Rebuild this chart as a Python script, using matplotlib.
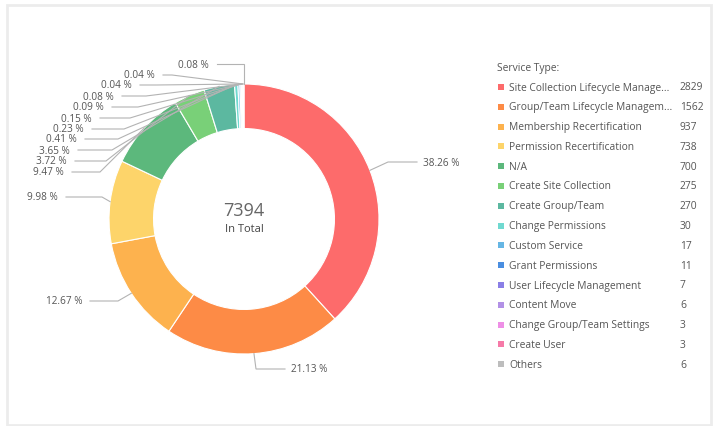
import numpy as np
import matplotlib
matplotlib.use("Agg")
import matplotlib.pyplot as plt
from matplotlib.patches import Rectangle

# data
services = [
    "Site Collection Lifecycle Manage...",
    "Group/Team Lifecycle Managem...",
    "Membership Recertification",
    "Permission Recertification",
    "N/A",
    "Create Site Collection",
    "Create Group/Team",
    "Change Permissions",
    "Custom Service",
    "Grant Permissions",
    "User Lifecycle Management",
    "Content Move",
    "Change Group/Team Settings",
    "Create User",
    "Others",
]
counts = [2829, 1562, 937, 738, 700, 275, 270, 30, 17, 11, 7, 6, 3, 3, 6]
colors = ["#fd6b6b", "#fd8b46", "#fdb24e", "#fdd46a", "#5cb87c", "#79d078",
          "#5cb8a0", "#70d9d0", "#66b6e4", "#4a8ee0", "#8a7fe6", "#b291e6",
          "#ee8fe6", "#f67aa8", "#bdbdbd"]

W, H = 718, 427
TXT = "#555555"
plt.rcParams["font.family"] = ["Open Sans", "DejaVu Sans"]

fig = plt.figure(figsize=(W / 100, H / 100), dpi=100)
ax = fig.add_axes([0, 0, 1, 1])


def py(y):
    # pixel row (from top) -> data y
    return H - y


cx, cy, R = 244, 220, 135
wedges, _ = ax.pie(counts, colors=colors, startangle=90, counterclock=False,
                   radius=R, center=(cx, py(cy)),
                   wedgeprops=dict(width=R * 0.33, edgecolor="white", linewidth=0.8))
ax.set_xlim(0, W)
ax.set_ylim(0, H)
ax.axis("off")

# outer frame
ax.add_patch(Rectangle((7, py(426)), 704, 420, fill=False, edgecolor="#ececec", lw=2))

# centre text
total = sum(counts)
ax.text(cx, py(211), str(total), ha="center", va="center", fontsize=13, color="#666666")
ax.text(cx, py(230), "In Total", ha="center", va="center", fontsize=8, color="#444444")

# percent labels: (text x, text row, align, elbow x)
label_layout = [
    (423, 163, "left", 388),
    (291, 370, "left", 256),
    (82, 302, "right", 118),
    (58, 198, "right", 102),
    (64, 173, "right", 100),
    (67, 162, "right", 106),
    (70, 151, "right", 112),
    (77, 140, "right", 118),
    (84, 130, "right", 124),
    (92, 119, "right", 130),
    (104, 108, "right", 138),
    (114, 97, "right", 146),
    (132, 86, "right", 156),
    (155, 76, "right", 172),
    (209, 65, "right", None),
]
for w, n, (tx, ty, ha, ex) in zip(wedges, counts, label_layout):
    mid = np.deg2rad((w.theta1 + w.theta2) / 2)
    ax_x = w.center[0] + w.r * np.cos(mid)
    ax_y = w.center[1] + w.r * np.sin(mid)
    if ex is None:
        ex = ax_x
    pct = 100 * n / total
    ax.text(tx, py(ty), f"{pct:.2f} %", ha=ha, va="center", fontsize=7.2, color=TXT)
    sx = tx + 8 if ha == "right" else tx - 6
    ax.plot([sx, ex, ax_x], [py(ty), py(ty), ax_y], color="#b3b3b3", lw=0.8,
            solid_joinstyle="miter")

# legend
ax.text(497, py(68), "Service Type:", ha="left", va="center", fontsize=7.4, color=TXT)
for i, (name, n, c) in enumerate(zip(services, counts, colors)):
    y = 88 + i * 19.8
    ax.add_patch(Rectangle((498, py(y) - 3), 6, 6, color=c, lw=0))
    ax.text(509, py(y), name, ha="left", va="center", fontsize=7.4, color=TXT)
    ax.text(680, py(y), str(n), ha="left", va="center", fontsize=7.4, color=TXT)

fig.savefig("out.png", dpi=100)
